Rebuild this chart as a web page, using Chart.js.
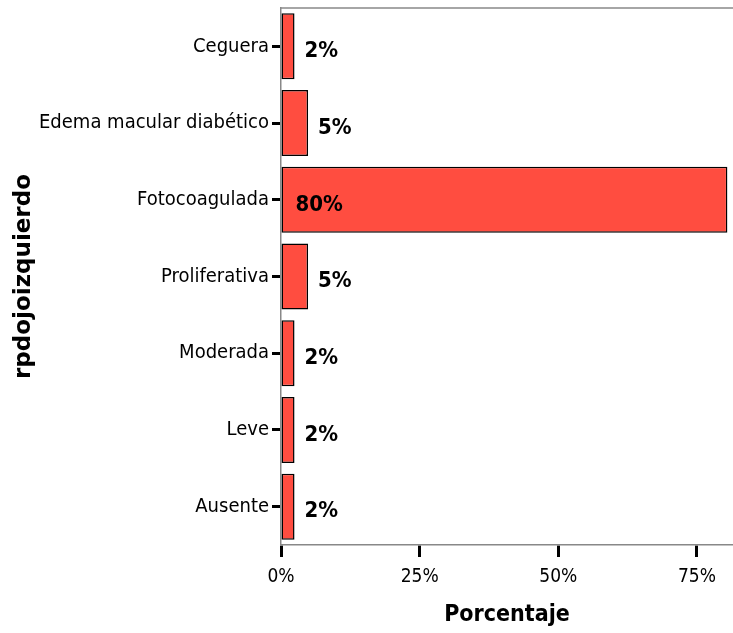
<!DOCTYPE html>
<html>
<head>
<meta charset="utf-8">
<script src="https://cdn.jsdelivr.net/npm/chart.js@4/dist/chart.umd.min.js"></script>
<style>
  html, body { margin: 0; padding: 0; background: #fff; }
  #wrap { width: 733px; height: 633px; position: relative; }
</style>
</head>
<body>
<div id="wrap"><canvas id="chart"></canvas></div>
<script>
// Data
const categories = ["Ceguera", "Edema macular diabético", "Fotocoagulada", "Proliferativa", "Moderada", "Leve", "Ausente"];
const percents = [2.44, 4.88, 80.49, 4.88, 2.44, 2.44, 2.44];
const valueLabels = ["2%", "5%", "80%", "5%", "2%", "2%", "2%"];
const xTicks = [0, 25, 50, 75];

const narrow = '"DejaVu Sans Condensed", "Liberation Sans Narrow", sans-serif';

const topLine = {
  id: 'topLine',
  afterDraw: (chart) => {
    const ctx = chart.ctx;
    const a = chart.chartArea;
    ctx.save();
    ctx.strokeStyle = '#888';
    ctx.lineWidth = 1.5;
    ctx.beginPath();
    ctx.moveTo(a.left, a.top);
    ctx.lineTo(a.right, a.top);
    ctx.stroke();
    ctx.restore();
  }
};

const barLabels = {
  id: 'barLabels',
  afterDatasetsDraw: (chart) => {
    const ctx = chart.ctx;
    const meta = chart.getDatasetMeta(0);
    ctx.save();
    ctx.font = `bold 22px ${narrow}`;
    ctx.fillStyle = '#000';
    ctx.textBaseline = 'middle';
    ctx.textAlign = 'left';
    meta.data.forEach((bar, i) => {
      const big = percents[i] > 50;
      const x = big ? bar.base + 14 : bar.x + 10;
      ctx.fillText(valueLabels[i], x, bar.y + 5);
    });
    ctx.restore();
  }
};

new Chart(document.getElementById('chart'), {
  type: 'bar',
  data: {
    labels: categories,
    datasets: [{
      data: percents,
      backgroundColor: 'rgb(255, 77, 64)',
      borderColor: '#000',
      borderWidth: 1.5,
      borderSkipped: false,
      barPercentage: 0.86,
      categoryPercentage: 1
    }]
  },
  options: {
    indexAxis: 'y',
    responsive: true,
    maintainAspectRatio: false,
    animation: false,
    layout: { padding: { top: 8, right: 0, left: 0, bottom: 0 } },
    plugins: {
      legend: { display: false },
      tooltip: { enabled: false }
    },
    scales: {
      x: {
        min: 0,
        max: 81.5,
        afterBuildTicks: (axis) => { axis.ticks = xTicks.map(v => ({ value: v })); },
        afterFit: (axis) => { axis.height = 88; axis.paddingRight = 0; axis.paddingLeft = 0; },
        ticks: {
          callback: (v) => v + '%',
          color: '#000',
          font: { family: narrow, size: 19 },
          padding: 9
        },
        grid: {
          drawOnChartArea: false,
          tickLength: 12,
          tickWidth: 3,
          tickColor: '#000'
        },
        border: { color: '#888', width: 1.5 },
        title: {
          display: true,
          text: 'Porcentaje',
          color: '#000',
          font: { family: narrow, size: 23, weight: 'bold' },
          padding: { top: 8 }
        }
      },
      y: {
        afterFit: (axis) => { axis.width = 281; axis.paddingTop = 0; axis.paddingBottom = 0; },
        ticks: {
          color: '#000',
          font: { family: narrow, size: 20 },
          padding: 3
        },
        grid: {
          offset: false,
          drawOnChartArea: false,
          tickLength: 9,
          tickWidth: 3,
          tickColor: '#000'
        },
        border: { color: '#888', width: 1.5 },
        title: {
          display: true,
          text: 'rpdojoizquierdo',
          color: '#000',
          font: { family: '"DejaVu Sans", sans-serif', size: 23, weight: 'bold' },
          padding: { top: 10 }
        }
      }
    }
  },
  plugins: [topLine, barLabels]
});
</script>
</body>
</html>
